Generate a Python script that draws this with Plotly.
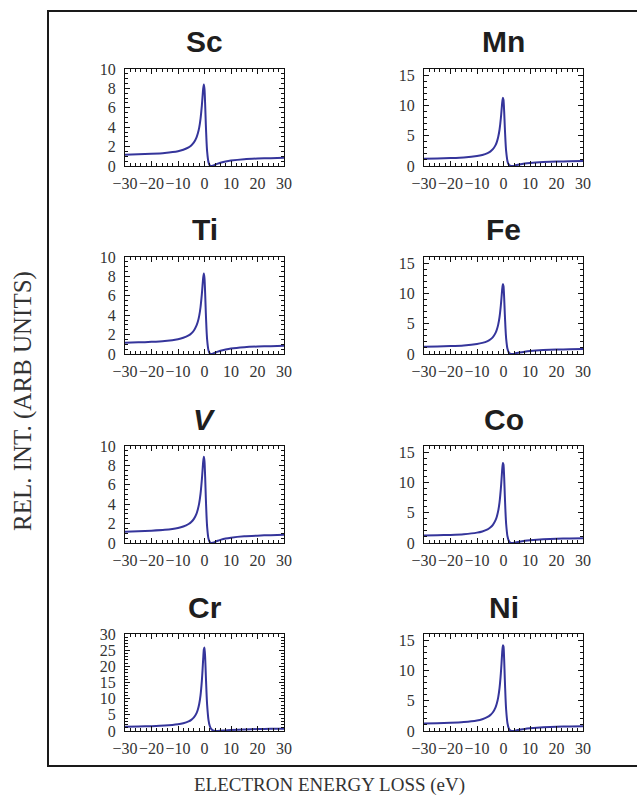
import plotly.graph_objects as go

# ---------------- data ----------------
energy = [-30, -25, -20, -15, -10, -8, -6, -5, -4, -3, -2.5, -2, -1.5, -1, -0.75, -0.5,
          -0.25, 0, 0.25, 0.5, 0.75, 1, 1.5, 2, 2.5, 3, 3.5, 4, 5, 6, 8, 10, 15, 20, 25, 30]

sc = [1.17, 1.20, 1.26, 1.35, 1.53, 1.68, 1.92, 2.12, 2.43, 2.96, 3.37, 3.96, 4.86, 6.23, 7.10, 7.94,
      8.40, 7.92, 6.34, 4.32, 2.62, 1.48, 0.40, 0.07, 0.00, 0.02, 0.07, 0.13, 0.24, 0.33, 0.47, 0.56,
      0.70, 0.77, 0.81, 0.84]
ti = [1.17, 1.20, 1.25, 1.34, 1.53, 1.67, 1.91, 2.11, 2.42, 2.94, 3.34, 3.93, 4.82, 6.17, 7.02, 7.85,
      8.29, 7.81, 6.24, 4.25, 2.57, 1.45, 0.38, 0.06, 0.00, 0.02, 0.08, 0.14, 0.25, 0.34, 0.47, 0.57,
      0.70, 0.77, 0.81, 0.84]
v = [1.17, 1.21, 1.27, 1.36, 1.55, 1.70, 1.96, 2.17, 2.49, 3.04, 3.48, 4.11, 5.06, 6.52, 7.45, 8.37,
     8.89, 8.43, 6.80, 4.68, 2.87, 1.64, 0.46, 0.09, 0.00, 0.02, 0.06, 0.12, 0.23, 0.32, 0.46, 0.55,
     0.69, 0.76, 0.81, 0.84]
cr = [1.32, 1.39, 1.50, 1.68, 2.07, 2.39, 2.96, 3.44, 4.20, 5.54, 6.66, 8.35, 11.04, 15.52, 18.67, 22.24,
      25.23, 25.81, 22.73, 17.33, 12.02, 8.00, 3.47, 1.53, 0.67, 0.28, 0.10, 0.02, 0.01, 0.06, 0.18, 0.30,
      0.49, 0.60, 0.67, 0.72]
mn = [1.20, 1.24, 1.31, 1.41, 1.64, 1.82, 2.13, 2.38, 2.77, 3.44, 3.98, 4.77, 5.98, 7.88, 9.12, 10.41,
      11.25, 10.89, 9.01, 6.38, 4.07, 2.44, 0.80, 0.22, 0.04, 0.00, 0.02, 0.06, 0.16, 0.25, 0.40, 0.50,
      0.65, 0.73, 0.78, 0.82]
fe = [1.20, 1.25, 1.31, 1.42, 1.65, 1.83, 2.14, 2.40, 2.80, 3.49, 4.04, 4.85, 6.09, 8.04, 9.32, 10.65,
      11.54, 11.20, 9.28, 6.60, 4.22, 2.55, 0.85, 0.24, 0.04, 0.00, 0.02, 0.06, 0.16, 0.25, 0.39, 0.49,
      0.64, 0.73, 0.78, 0.81]
co = [1.22, 1.27, 1.34, 1.46, 1.71, 1.91, 2.25, 2.54, 2.99, 3.76, 4.38, 5.29, 6.71, 8.97, 10.47, 12.07,
      13.19, 12.93, 10.86, 7.83, 5.10, 3.14, 1.11, 0.36, 0.09, 0.01, 0.01, 0.04, 0.12, 0.21, 0.36, 0.46,
      0.62, 0.71, 0.76, 0.80]
ni = [1.23, 1.28, 1.35, 1.48, 1.74, 1.95, 2.32, 2.62, 3.09, 3.91, 4.57, 5.55, 7.07, 9.50, 11.14, 12.89,
      14.15, 13.95, 11.78, 8.56, 5.62, 3.50, 1.28, 0.43, 0.12, 0.02, 0.00, 0.02, 0.11, 0.19, 0.34, 0.44,
      0.61, 0.70, 0.75, 0.79]

elements = ["Sc", "Ti", "<i>V</i>", "Cr", "Mn", "Fe", "Co", "Ni"]
series = [sc, ti, v, cr, mn, fe, co, ni]
y_max = [10, 10, 10, 30, 16, 16, 16, 16]
y_major = [2, 2, 2, 5, 5, 5, 5, 5]
y_minor = [0.5, 0.5, 0.5, 1, 1, 1, 1, 1]
x_ticks = [-30, -20, -10, 0, 10, 20, 30]

# ---------------- layout geometry ----------------
W, H = 637, 800
col_px = [(125, 284), (424, 583)]
row_top = [69, 257, 446, 634]
row_h = 97
title_y = [42, 230, 419, 607]

fig = go.Figure()
annotations = []
line_color = "#35359b"
serif = "Liberation Serif, Times New Roman, serif"
sans = "Liberation Sans, Arial, sans-serif"

for i, (name, ys) in enumerate(zip(elements, series)):
    col = i // 4
    row = i % 4
    k = i + 1
    xa = "x" if k == 1 else f"x{k}"
    ya = "y" if k == 1 else f"y{k}"
    fig.add_trace(go.Scatter(x=energy, y=ys, mode="lines", xaxis=xa, yaxis=ya,
                             line=dict(color=line_color, width=2, shape="spline", smoothing=0.5),
                             showlegend=False, hoverinfo="skip"))
    x0, x1 = col_px[col]
    top = row_top[row]
    bot = top + row_h
    common = dict(showline=True, linecolor="#111", linewidth=1, mirror="allticks",
                  ticks="inside", ticklen=5, tickcolor="#111", tickwidth=1,
                  showgrid=False, zeroline=False, automargin=False, tickangle=0,
                  tickfont=dict(family=serif, size=16, color="#333"))
    fig.layout[f"xaxis{'' if k == 1 else k}"] = dict(
        domain=[x0 / W, x1 / W], anchor=ya, range=[-30, 30],
        tickvals=x_ticks, ticklabelstandoff=3,
        minor=dict(dtick=2, tick0=0, ticks="inside", ticklen=3, tickcolor="#111", showgrid=False),
        **common)
    fig.layout[f"yaxis{'' if k == 1 else k}"] = dict(
        domain=[1 - bot / H, 1 - top / H], anchor=xa, range=[0, y_max[i]],
        dtick=y_major[i], tick0=0, ticklabelstandoff=5,
        minor=dict(dtick=y_minor[i], tick0=0, ticks="inside", ticklen=3, tickcolor="#111", showgrid=False),
        **common)
    annotations.append(dict(text=f"<b>{name}</b>", x=(x0 + x1) / 2 / W, y=1 - title_y[row] / H,
                            xref="paper", yref="paper", showarrow=False,
                            xanchor="center", yanchor="middle",
                            font=dict(family=sans, size=30, color="#1e1e1e")))

annotations.append(dict(text="REL. INT. (ARB UNITS)", x=23 / W, y=1 - 401 / H, xref="paper", yref="paper",
                        showarrow=False, textangle=-90, xanchor="center", yanchor="middle",
                        font=dict(family=serif, size=25, color="#333")))
annotations.append(dict(text="ELECTRON ENERGY LOSS (eV)", x=329 / W, y=1 - 785 / H, xref="paper",
                        yref="paper", showarrow=False, xanchor="center", yanchor="middle",
                        font=dict(family=serif, size=19, color="#333")))

fig.update_layout(
    template="none",
    width=W, height=H, margin=dict(l=0, r=0, t=0, b=0, pad=0, autoexpand=False),
    paper_bgcolor="white", plot_bgcolor="white",
    annotations=annotations,
    shapes=[dict(type="rect", xref="paper", yref="paper",
                 x0=48 / W, x1=1.02, y0=1 - 766 / H, y1=1 - 11 / H,
                 line=dict(color="#1a1a1a", width=2), layer="below")],
)

fig.write_html("out.html", config={"displayModeBar": False},
               post_script="document.body.style.margin='0';document.body.style.overflow='hidden';")
